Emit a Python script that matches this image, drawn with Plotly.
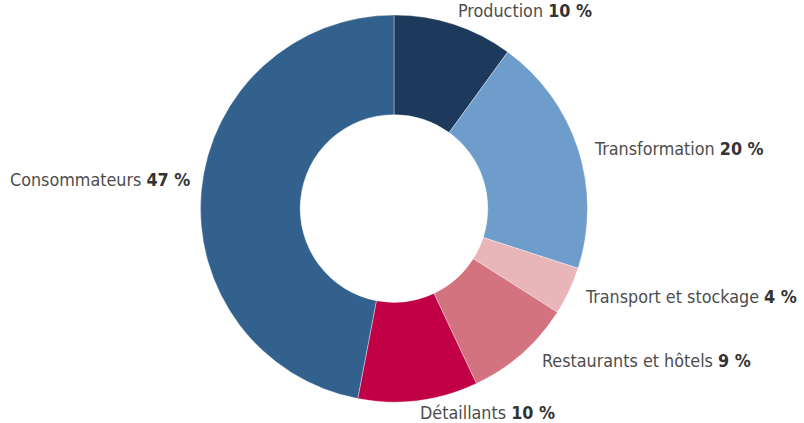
import plotly.graph_objects as go

categories = ["Production", "Transformation", "Transport et stockage",
              "Restaurants et hôtels", "Détaillants", "Consommateurs"]
values = [10, 20, 4, 9, 10, 47]
colors = ["#1d3a5c", "#6f9dcb", "#e8b5b9", "#d3737f", "#c10046", "#33618e"]

W, H = 804, 423
# label anchor positions in pixels (left edge, vertical middle)
label_pos = [(456, 10), (592, 149), (583, 296), (540, 360), (418, 412), (8, 180)]

fig = go.Figure(go.Pie(
    labels=categories,
    values=values,
    sort=False,
    direction="clockwise",
    rotation=0,
    hole=0.485,
    marker=dict(colors=colors, line=dict(color="rgba(255,255,255,0.6)", width=0.6)),
    textinfo="none",
    hoverinfo="label+percent",
    domain=dict(x=[200 / W, 588 / W], y=[(423 - 402) / H, (423 - 15) / H]),
    showlegend=False,
))

annotations = []
for name, v, (px, py) in zip(categories, values, label_pos):
    annotations.append(dict(
        x=px / W, y=1 - py / H, xref="paper", yref="paper",
        xanchor="left", yanchor="middle", showarrow=False,
        text=f"<span style='color:#4d4d4d'>{name}</span> <b style='color:#333333'>{v} %</b>",
        font=dict(family="DejaVu Sans Condensed, Liberation Sans Narrow, sans-serif",
                  size=17.8, color="#4d4d4d"),
    ))

fig.update_layout(
    width=W, height=H,
    margin=dict(l=0, r=0, t=0, b=0),
    paper_bgcolor="white", plot_bgcolor="white",
    annotations=annotations,
)

fig.write_html("out.html")
